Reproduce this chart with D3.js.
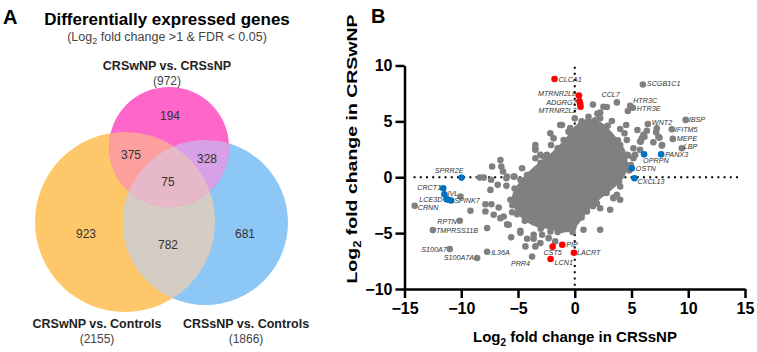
<!DOCTYPE html>
<html>
<head>
<meta charset="utf-8">
<script src="https://cdn.jsdelivr.net/npm/d3@7"></script>
<style>
  body { margin: 0; background: #fff; }
  svg { display: block; font-family: Arial, "Liberation Sans", sans-serif; }
  .panel { font-weight: bold; font-size: 20px; fill: #000; }
  .vennCount { font-size: 12px; fill: #333; text-anchor: middle; }
  .vennName { font-size: 12.5px; font-weight: bold; fill: #222; text-anchor: middle; }
  .vennTotal { font-size: 12px; fill: #444; text-anchor: middle; }
  .geneLabel { font-size: 7.2px; font-style: italic; fill: #333; }
  .axis path, .axis line { stroke: #000; stroke-width: 2.5px; }
  .axis text { font-size: 16px; font-weight: bold; fill: #000; }
  .axisTitle { font-size: 15px; font-weight: bold; fill: #000; text-anchor: middle; }
</style>
</head>
<body>
<div id="chart"></div>
<script>

// ---- Panel A: Venn diagram values ----
var vennNames = ["CRSwNP vs. CRSsNP", "CRSwNP vs. Controls", "CRSsNP vs. Controls"];
var vennTotals = [972, 2155, 1866];
// regions: P = CRSwNP vs CRSsNP, A = CRSwNP vs Controls, B = CRSsNP vs Controls
var regionKeys = ["P", "PA", "PB", "PAB", "A", "AB", "B"];
var regionCounts = [194, 375, 328, 75, 923, 782, 681];

// ---- Panel B: scatter values (log2 FC CRSsNP, log2 FC CRSwNP) ----
var xTicks = [-15, -10, -5, 0, 5, 10, 15];
var yTicks = [-10, -5, 0, 5, 10];

// outline of the saturated central cloud
var cloudOutline = [
  [1.07, 5.0], [2.24, 4.7], [3.39, 3.55], [4.2, 2.4], [4.45, 1.25], [4.15, 0.1],
  [3.3, -0.8], [2.2, -1.7], [1.07, -2.8], [0.19, -4.0], [-0.69, -4.7], [-2.4, -4.4],
  [-3.65, -4.1], [-4.9, -3.1], [-5.3, -1.72], [-4.7, -0.54], [-3.55, 0.69], [-2.1, 1.85],
  [-0.69, 3.3], [0.19, 4.45]
];

var grayGenes = [
  [1.6, 6.5], [2.24, 5.78], [2.0, 5.69], [2.83, 6.29], [4.68, 5.93], [4.0, 4.32], [4.38, 3.93],
  [4.53, 4.68], [3.27, 5.03], [2.24, 5.27], [1.21, 5.42], [-1.28, 4.68], [-0.55, 4.08], [-0.4, 4.4],
  [0, 5.27], [-0.98, 3.34], [-2.09, 2.89], [-3.47, 2.89], [-3.47, 2.45], [-3.47, 1.7], [-4.64, 0.8],
  [-2.45, 2.0], [5.52, 4.23], [7.17, 4.02], [7.46, 3.54], [7.7, 2.89], [6.14, 3.63], [5.82, 3.19],
  [4.44, 0.8], [4.73, 1.94], [4.94, 1.1], [-1.13, 4.68], [-2.15, 3.93], [-1.86, 3.48], [-3.47, 2.6],
  [-2.74, 1.85], [-5.38, 0.06], [-5.97, 0.06], [-6.55, 1.55], [-4.79, -0.23], [2.53, 6.31],
  [5.76, 2.45], [5.17, 1.7], [4.59, 3.34], [3.12, -2.91], [4.0, -2.02], [2.24, -4.7], [0.77, -4.7],
  [4.0, -0.83], [3.71, -1.57], [3.41, -1.81], [4.53, 1.1], [5.17, 2.59], [5.91, 3.48], [6.05, 3.79],
  [7.37, 3.63], [6.93, 3.13], [7.67, 2.83], [7.23, 4.38], [5.32, 2.0], [5.76, 3.19], [4.15, 2.14],
  [6.35, 4.15], [4.0, 2.89], [-7.28, 0.96], [-6.47, 0.96], [-6.32, 0.51], [-8.37, -0.03],
  [-8.02, -0.03], [-7.37, -0.23], [-6.02, -0.09], [-5.32, 0.06], [-6.79, -0.68], [-6.02, -0.77],
  [-7.43, -1.13], [-7.87, -2.41], [-9.19, -3.0], [-7.34, -2.41], [-6.7, -2.71], [-5.67, -2.02],
  [-5.52, -3.13], [-5.08, -3.3], [-6.55, -3.66], [-5.82, -4.25], [-4.79, -4.79], [-5.61, -5.38],
  [-4.2, -5.5], [-3.62, -5.5], [-3.03, -5.89], [-4.79, -2.46], [-4.64, -1.28], [-2.45, 0.96],
  [-3.03, 2.0], [3.41, -1.88], [1.95, -2.33], [0.48, -2.48], [-0.4, -4.25], [-1.72, -5.74],
  [-2.3, -5.45], [-2.88, -5.14], [-3.62, -5.14], [-4.35, -6.19], [-3.47, -6.19], [-4.79, -4.97],
  [-5.96, -4.22], [-7.14, -3.36], [-7.87, -3.06], [-6.26, -3.51], [-7.72, -4.55], [-1.13, -4.7],
  [-2.15, -4.85], [-0.1, -4.4], [1.07, -3.06], [2.24, -2.77], [-10.07, -1.72],
  // dots along the cloud edge
  [2.9, 4.6], [3.8, 3.3], [4.6, 2.0], [4.8, 0.6], [3.9, -0.4], [2.8, -1.4], [1.6, -2.6],
  [0.6, -3.6], [-0.2, -4.9], [-1.5, -4.9], [-3.0, -4.6], [-4.4, -3.9], [-5.5, -2.5],
  [-5.3, -1.0], [-4.2, 0.2], [-3.0, 1.3], [-1.5, 2.6], [-0.2, 4.0], [0.6, 5.0], [1.8, 5.1]
];

// highlighted / labelled genes
var geneNames = [
  "SCGB1C1", "CCL7", "HTR3C", "HTR3E", "WNT2", "IBSP", "IFITM5", "MEPE", "LBP",
  "CRNN", "RPTN", "TMPRSS11B", "S100A7", "S100A7A", "IL36A", "PRR4",
  "CLCA1", "MTRNR2L8", "ADGRG7", "", "MTRNR2L2", "CST5", "PIP", "LACRT", "LCN1",
  "SPRR2E", "CRCT1", "IVL", "LCE3D", "SPINK7", "", "OPRPN", "PANX3", "OSTN", "CXCL13"
];
var geneX = [
  6.0, 3.71, 4.88, 5.12, 6.44, 9.78, 8.55, 8.64, 9.43,
  -14.1, -10.13, -12.5, -11.01, -8.6, -7.72, -3.76,
  -1.78, 0.37, 0.42, 0.48, 0.51, -1.95, -1.1, -0.07, -2.13,
  -9.98, -11.59, -11.48, -11.3, -10.89, -11.13, 6.11, 7.61, 5.03, 5.26
];
var geneY = [
  8.3, 6.7, 6.4, 6.22, 4.77, 5.13, 4.29, 3.43, 2.59,
  -2.56, -3.89, -4.73, -6.43, -7.23, -6.66, -7.1,
  8.79, 7.32, 6.79, 6.55, 6.31, -6.21, -6.04, -6.75, -7.32,
  -0.03, -0.98, -1.52, -1.96, -2.08, -2.02, 2.05, 2.05, 0.8, -0.09
];
var geneGroup = [
  "other", "other", "other", "other", "other", "other", "other", "other", "other",
  "other", "other", "other", "other", "other", "other", "other",
  "up", "up", "up", "up", "up", "down", "down", "down", "down",
  "ctrl", "ctrl", "ctrl", "ctrl", "ctrl", "ctrl", "ctrl", "ctrl", "ctrl", "ctrl"
];

// ---- layout (pixels), kept apart from the values ----
var width = 757, height = 352;
var vennCircles = {
  P: {cx: 169, cy: 147, r: 60},
  A: {cx: 125, cy: 222, r: 90},
  B: {cx: 205.5, cy: 222.5, r: 82.5}
};
var regionPos = {
  P: [170, 120], PA: [131, 159], PB: [207, 163], PAB: [168, 186],
  A: [86, 238], AB: [168, 249], B: [245, 238]
};
var regionColor = {
  P: "#fe66c9", A: "#fec86a", B: "#8dc7f6",
  PA: "#fd9f9c", PB: "#d8a0e6", AB: "#d5cdc4", PAB: "#e7b8c8"
};
var groupColor = {other: "#808080", up: "#ff0000", down: "#ff0000", ctrl: "#0070c0"};
// label offset from the dot: [dx, dy, anchor]
var labelOffset = {
  SCGB1C1: [4, 2, "start"], CCL7: [3, -5, "end"], HTR3C: [3, -3, "start"], HTR3E: [4, 3, "start"],
  WNT2: [4, 1, "start"], IBSP: [3, 2, "start"], IFITM5: [3, 3, "start"], MEPE: [4, 2, "start"],
  LBP: [2, 1, "start"], CRNN: [3, 4.5, "start"], RPTN: [-3, 3, "end"], TMPRSS11B: [3, 3, "start"],
  S100A7: [-3, 3, "end"], S100A7A: [-3, 2, "end"], IL36A: [4, 3, "start"], PRR4: [-2, 9, "end"],
  CLCA1: [4, 3, "start"], MTRNR2L8: [-3, 1, "end"], ADGRG7: [-3, 3.5, "end"], MTRNR2L2: [-4, 5.8, "end"],
  CST5: [0, 8, "middle"], PIP: [4, 2, "start"], LACRT: [3, 2, "start"], LCN1: [4, 6, "start"],
  SPRR2E: [2, -5, "end"], CRCT1: [-2, 2, "end"], IVL: [3, 2, "start"], LCE3D: [-4, 2.5, "end"],
  SPINK7: [3, 3, "start"], OPRPN: [-1, 9, "start"], PANX3: [4, 3, "start"], OSTN: [4, 3, "start"],
  CXCL13: [3, 6, "start"]
};

var svg = d3.select("#chart").append("svg")
    .attr("width", width)
    .attr("height", height);

svg.append("rect").attr("width", width).attr("height", height).attr("fill", "#fff");

// ================= Panel A =================
var gA = svg.append("g");

gA.append("text").attr("class", "panel").attr("x", 3).attr("y", 24).text("A");
gA.append("text")
    .attr("x", 167).attr("y", 25)
    .attr("text-anchor", "middle")
    .style("font-size", "17px").style("font-weight", "bold")
    .text("Differentially expressed genes");
var sub = gA.append("text")
    .attr("x", 167).attr("y", 41)
    .attr("text-anchor", "middle")
    .style("font-size", "12.5px").style("fill", "#444");
sub.append("tspan").text("(Log");
sub.append("tspan").attr("dy", 3).style("font-size", "9px").text("2");
sub.append("tspan").attr("dy", -3).text(" fold change >1 & FDR < 0.05)");

var defs = svg.append("defs");
["P", "A", "B"].forEach(function(k){
  var c = vennCircles[k];
  defs.append("clipPath").attr("id", "clip" + k)
    .append("circle").attr("cx", c.cx).attr("cy", c.cy).attr("r", c.r);
});

function circ(g, k, fill){
  var c = vennCircles[k];
  return g.append("circle").attr("cx", c.cx).attr("cy", c.cy).attr("r", c.r).attr("fill", fill);
}

// single sets
circ(gA, "A", regionColor.A);
circ(gA, "B", regionColor.B);
circ(gA, "P", regionColor.P);
// pairwise overlaps
circ(gA.append("g").attr("clip-path", "url(#clipA)"), "B", regionColor.AB);
circ(gA.append("g").attr("clip-path", "url(#clipA)"), "P", regionColor.PA);
circ(gA.append("g").attr("clip-path", "url(#clipB)"), "P", regionColor.PB);
// triple overlap
circ(gA.append("g").attr("clip-path", "url(#clipA)").append("g").attr("clip-path", "url(#clipB)"),
     "P", regionColor.PAB);

gA.selectAll("text.vennCount")
    .data(regionKeys)
    .enter().append("text")
    .attr("class", "vennCount")
    .attr("x", function(d){ return regionPos[d][0]; })
    .attr("y", function(d){ return regionPos[d][1]; })
    .text(function(d, i){ return regionCounts[i]; });

var namePos = [[167, 70], [97, 328], [246, 328]];
vennNames.forEach(function(n, i){
  gA.append("text").attr("class", "vennName")
    .attr("x", namePos[i][0]).attr("y", namePos[i][1]).text(n);
  gA.append("text").attr("class", "vennTotal")
    .attr("x", namePos[i][0]).attr("y", namePos[i][1] + 15).text("(" + vennTotals[i] + ")");
});

// ================= Panel B =================
var gB = svg.append("g");
gB.append("text").attr("class", "panel").attr("x", 371).attr("y", 23).text("B");

var x = d3.scaleLinear().domain([-15, 15]).range([404.5, 745]);
var y = d3.scaleLinear().domain([-10, 10]).range([289, 65.5]);

// dotted reference lines at 0
gB.append("line")
    .attr("x1", x(-14.2)).attr("x2", x(14.6))
    .attr("y1", y(0)).attr("y2", y(0))
    .attr("stroke", "#000").attr("stroke-width", 2).attr("stroke-dasharray", "2,4.2");
gB.append("line")
    .attr("x1", x(0)).attr("x2", x(0))
    .attr("y1", y(-9.7)).attr("y2", y(10))
    .attr("stroke", "#000").attr("stroke-width", 2).attr("stroke-dasharray", "2,4.2");

// saturated cloud
gB.append("path")
    .datum(cloudOutline)
    .attr("d", d3.line().x(function(d){ return x(d[0]); }).y(function(d){ return y(d[1]); })
      .curve(d3.curveCardinalClosed))
    .attr("fill", "#808080")
    .attr("stroke", "#808080")
    .attr("stroke-width", 5)
    .attr("stroke-linejoin", "round");

gB.selectAll("circle.bg")
    .data(grayGenes)
    .enter().append("circle")
    .attr("class", "bg")
    .attr("cx", function(d){ return x(d[0]); })
    .attr("cy", function(d){ return y(d[1]); })
    .attr("r", 3.3)
    .attr("fill", "#808080");

var genes = geneNames.map(function(n, i){
  return {name: n, x: geneX[i], y: geneY[i], group: geneGroup[i]};
});

gB.selectAll("circle.gdot")
    .data(genes)
    .enter().append("circle")
    .attr("class", "gdot")
    .attr("cx", function(d){ return x(d.x); })
    .attr("cy", function(d){ return y(d.y); })
    .attr("r", 3.3)
    .attr("fill", function(d){ return groupColor[d.group]; });

gB.selectAll("text.geneLabel")
    .data(genes.filter(function(d){ return d.name !== ""; }))
    .enter().append("text")
    .attr("class", "geneLabel")
    .attr("x", function(d){ return x(d.x) + labelOffset[d.name][0]; })
    .attr("y", function(d){ return y(d.y) + labelOffset[d.name][1]; })
    .attr("text-anchor", function(d){ return labelOffset[d.name][2]; })
    .text(function(d){ return d.name; });

// axes
gB.append("g")
    .attr("class", "axis")
    .attr("transform", "translate(0," + y(-10) + ")")
    .call(d3.axisBottom(x).tickValues(xTicks).tickSize(9).tickSizeOuter(0).tickPadding(5));
gB.append("g")
    .attr("class", "axis")
    .attr("transform", "translate(" + x(-15) + ",0)")
    .call(d3.axisLeft(y).tickValues(yTicks).tickSize(9).tickSizeOuter(0).tickPadding(3));
gB.selectAll(".axis text").style("font-family", "Arial, 'Liberation Sans', sans-serif");

var xt = gB.append("text").attr("class", "axisTitle").attr("x", 575).attr("y", 342);
xt.append("tspan").text("Log");
xt.append("tspan").attr("dy", 4).style("font-size", "10px").text("2");
xt.append("tspan").attr("dy", -4).text(" fold change in CRSsNP");

// the y title is taller than wide in the source, so stretch it along its length
var yt = gB.append("text").attr("class", "axisTitle")
    .style("font-size", "19.5px")
    .attr("transform", "translate(357,149) rotate(-90) scale(1,0.78)");
yt.append("tspan").text("Log");
yt.append("tspan").attr("dy", 5).style("font-size", "13px").text("2");
yt.append("tspan").attr("dy", -5).text(" fold change in CRSwNP");

</script>
</body>
</html>
